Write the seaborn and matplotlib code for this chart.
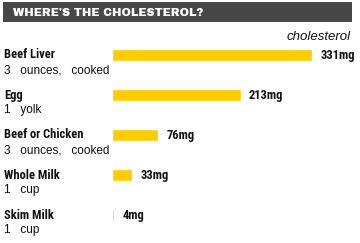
import matplotlib
matplotlib.use("Agg")
import matplotlib.pyplot as plt
import matplotlib.transforms as mtrans
from matplotlib.patches import Rectangle
import seaborn as sns
import pandas as pd

foods = ["Beef Liver", "Egg", "Beef or Chicken", "Whole Milk", "Skim Milk"]
servings = ["3   ounces,   cooked", "1   yolk", "3   ounces,   cooked", "1   cup", "1   cup"]
cholesterol_mg = [331, 213, 76, 33, 4]
title = "WHERE'S THE CHOLESTEROL?"
column_label = "cholesterol"

sns.set_theme(style="white")
plt.rcParams['font.family'] = ['Roboto Condensed', 'Liberation Sans Narrow', 'DejaVu Sans']

W, H = 360, 243
fig = plt.figure(figsize=(W / 100, H / 100), dpi=100)
fig.patch.set_facecolor("white")

def fx(px):
    return px / W

def fy(py):
    return 1 - py / H

# banner
fig.patches.append(Rectangle((fx(3), fy(22)), fx(352) - fx(3), fy(2) - fy(22),
                             transform=fig.transFigure, facecolor="#474747",
                             edgecolor="none", zorder=0))
fig.text(fx(13), fy(12.5), title, color="white", fontsize=8.1,
         family=["Archivo Black", "DejaVu Sans"], fontweight="heavy",
         va="center", ha="left")

# bar axes
left_px, right_px = 112, 352
top_px, bot_px = 35, 235
ax = fig.add_axes([fx(left_px), fy(bot_px), fx(right_px) - fx(left_px), fy(top_px) - fy(bot_px)])
df = pd.DataFrame({"food": foods, "mg": cholesterol_mg})
sns.barplot(data=df, x="mg", y="food", orient="h", color="#FFCC00", saturation=1,
            width=0.29, ax=ax)
ax.set_xlim(0, 331 * (right_px - left_px) / 200)
ax.set_ylim(len(foods) - 0.5, -0.5)
ax.axis("off")

tr = mtrans.blended_transform_factory(fig.transFigure, ax.transData)
for i, (v, name, sub) in enumerate(zip(cholesterol_mg, foods, servings)):
    ax.annotate(f"{v}mg", xy=(v, i), xytext=(6, 0), textcoords="offset points",
                va="center", ha="left", fontsize=9, fontweight="bold", color="#111111")
    ax.text(fx(4), i, name, transform=tr, va="center", ha="left",
            fontsize=9, fontweight="bold", color="#111111")
    ax.text(fx(4), i + 0.38, sub, transform=tr, va="center", ha="left",
            fontsize=8.5, family=["Liberation Sans", "DejaVu Sans"], color="#111111")

fig.text(fx(351), fy(37), column_label, style="italic", fontsize=9.5,
         family=["Liberation Sans", "DejaVu Sans"],
         ha="right", va="center", color="#111111")

fig.savefig("out.png", dpi=100)
